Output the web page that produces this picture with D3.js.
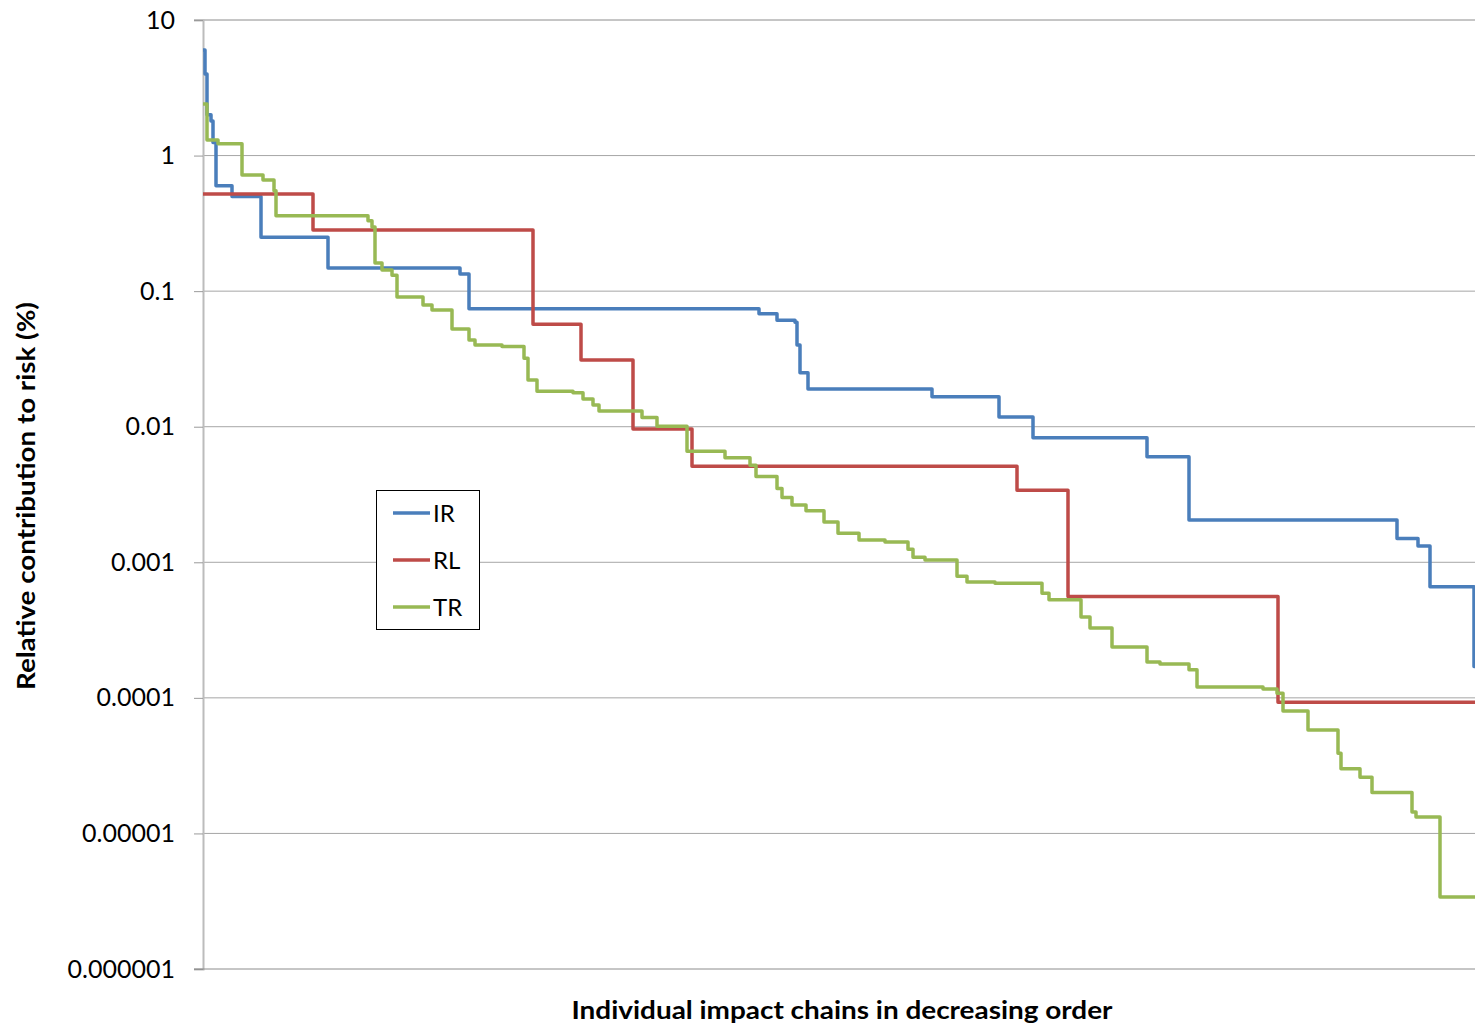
<!DOCTYPE html>
<html>
<head>
<meta charset="utf-8">
<title>Relative contribution to risk</title>
<style>
body {
  margin: 0;
  background: #fff;
}
svg {
  display: block;
}
.tick text {
  font: 25px Lato, "Open Sans", sans-serif;
  fill: #000;
}
.grid line {
  stroke: #a6a6a6;
  stroke-width: 1px;
}
.series {
  fill: none;
  stroke-width: 3.5px;
  stroke-linejoin: round;
}
.title {
  font: bold 24px Lato, "Open Sans", sans-serif;
  fill: #000;
}
.legend text {
  font: 24px Lato, "Open Sans", sans-serif;
  fill: #000;
}
</style>
<script src="https://d3js.org/d3.v7.min.js"></script>
</head>
<body>
<div id="chart"></div>
<script>
// number of impact chains (x axis has no labels, chains are just ranked)
var chainCount = 1272;

var yTicks = [10, 1, 0.1, 0.01, 0.001, 0.0001, 0.00001, 0.000001];
var yTickLabels = ['10', '1', '0.1', '0.01', '0.001', '0.0001', '0.00001', '0.000001'];

var seriesNames = ['IR', 'RL', 'TR'];

// each series: rank where a new step starts, and value of that step (%)
var irRank  = [0, 2, 4, 8, 10, 13, 29, 58, 125, 257, 266, 556, 574, 592, 594, 597, 605, 729, 796, 830, 944, 986, 1194, 1215, 1227, 1271];
var irValue = [6.0, 4.0, 2.0, 1.8, 1.25, 0.6, 0.5, 0.25, 0.148, 0.134, 0.074, 0.068, 0.061, 0.059, 0.04, 0.025, 0.019, 0.0166, 0.0118, 0.0083, 0.006, 0.00205, 0.0015, 0.00132, 0.00066, 0.00017];

var rlRank  = [0, 110, 330, 378, 430, 489, 814, 865, 1075];
var rlValue = [0.52, 0.283, 0.057, 0.031, 0.0096, 0.0051, 0.0034, 0.00056, 0.000093];

var trRank  = [0, 4, 15, 39, 60, 71, 73, 165, 169, 172, 179, 189, 194, 220, 229, 249, 266, 272, 299, 321, 325, 334, 370, 380, 390, 396, 439, 454, 484, 522, 547, 553, 574, 579, 589, 603, 621, 635, 656, 682, 705, 710, 722, 754, 764, 792, 839, 846, 878, 887, 909, 944, 957, 986, 994, 1060, 1074, 1080, 1105, 1135, 1138, 1157, 1169, 1209, 1213, 1237];
var trValue = [2.4, 1.3, 1.22, 0.72, 0.66, 0.55, 0.36, 0.33, 0.297, 0.161, 0.143, 0.131, 0.0905, 0.079, 0.0726, 0.0526, 0.0436, 0.0401, 0.039, 0.032, 0.0221, 0.0183, 0.0178, 0.016, 0.01445, 0.01306, 0.0117, 0.0101, 0.0066, 0.0059, 0.0052, 0.0043, 0.0035, 0.003, 0.00265, 0.0024, 0.00198, 0.00164, 0.00146, 0.00141, 0.00125, 0.00109, 0.00104, 0.00079, 0.000715, 0.0007, 0.00059, 0.00053, 0.000395, 0.000327, 0.000237, 0.000184, 0.000178, 0.000161, 0.00012, 0.000116, 0.000108, 0.00008, 0.000058, 0.000039, 0.00003, 0.000026, 0.00002, 0.0000144, 0.0000132, 0.0000034];

var colors = ['#4a7ebb', '#be4b48', '#98b954'];

var width = 1475, height = 1028;
var margin = {top: 20, right: 0, bottom: 59, left: 203};

var svg = d3.select('#chart').append('svg')
  .attr('width', width)
  .attr('height', height);

var x = d3.scaleLinear()
  .domain([0, chainCount])
  .range([margin.left, width - margin.right]);

var y = d3.scaleLog()
  .domain([0.000001, 10])
  .range([height - margin.bottom, margin.top]);

// gridlines
svg.append('g')
  .attr('class', 'grid')
  .selectAll('line')
  .data(yTicks.slice(1, -1))
  .enter().append('line')
  .attr('x1', x(0)).attr('x2', x(chainCount))
  .attr('y1', d => y(d)).attr('y2', d => y(d));

// top line at 10
svg.append('line')
  .attr('x1', x(0) - 9).attr('x2', x(chainCount))
  .attr('y1', y(10)).attr('y2', y(10))
  .attr('stroke', '#8c8c8c');

// y axis
var yAxis = d3.axisLeft(y)
  .tickValues(yTicks)
  .tickFormat((d, i) => yTickLabels[i])
  .tickSize(9)
  .tickPadding(19);

var gy = svg.append('g')
  .attr('transform', 'translate(' + x(0) + ',0)')
  .call(yAxis);
gy.select('.domain').attr('stroke', '#bcbcbc').attr('stroke-width', 2);
gy.selectAll('.tick line').attr('stroke', '#9a9a9a');

// bottom axis line
svg.append('line')
  .attr('x1', x(0) - 9).attr('x2', x(chainCount))
  .attr('y1', y(0.000001)).attr('y2', y(0.000001))
  .attr('stroke', '#8c8c8c');

// series
var ranks = [irRank, rlRank, trRank];
var values = [irValue, rlValue, trValue];

var line = d3.line()
  .x(d => x(d[0]))
  .y(d => y(d[1]))
  .curve(d3.curveStepAfter);

seriesNames.forEach((name, s) => {
  var pts = ranks[s].map((r, i) => [r, values[s][i]]);
  pts.push([chainCount, values[s][values[s].length - 1]]);
  svg.append('path')
    .attr('class', 'series')
    .attr('d', line(pts))
    .attr('stroke', colors[s]);
});

// legend
var lg = svg.append('g').attr('class', 'legend');
lg.append('rect')
  .attr('x', 376.5).attr('y', 490.5)
  .attr('width', 103).attr('height', 139)
  .attr('fill', '#fff')
  .attr('stroke', '#000');
seriesNames.forEach((name, i) => {
  var ly = 513 + i * 47;
  lg.append('line')
    .attr('x1', 393).attr('x2', 430)
    .attr('y1', ly).attr('y2', ly)
    .attr('stroke', colors[i])
    .attr('stroke-width', 3.5);
  lg.append('text')
    .attr('x', 433).attr('y', ly + 9)
    .text(name);
});

// axis titles
svg.append('text')
  .attr('class', 'title')
  .attr('x', 842).attr('y', 1019)
  .attr('text-anchor', 'middle')
  .attr('textLength', 541)
  .attr('lengthAdjust', 'spacingAndGlyphs')
  .text('Individual impact chains in decreasing order');

svg.append('text')
  .attr('class', 'title')
  .attr('transform', 'translate(35,496) rotate(-90)')
  .attr('text-anchor', 'middle')
  .attr('textLength', 388)
  .attr('lengthAdjust', 'spacingAndGlyphs')
  .text('Relative contribution to risk (%)');
</script>
</body>
</html>
